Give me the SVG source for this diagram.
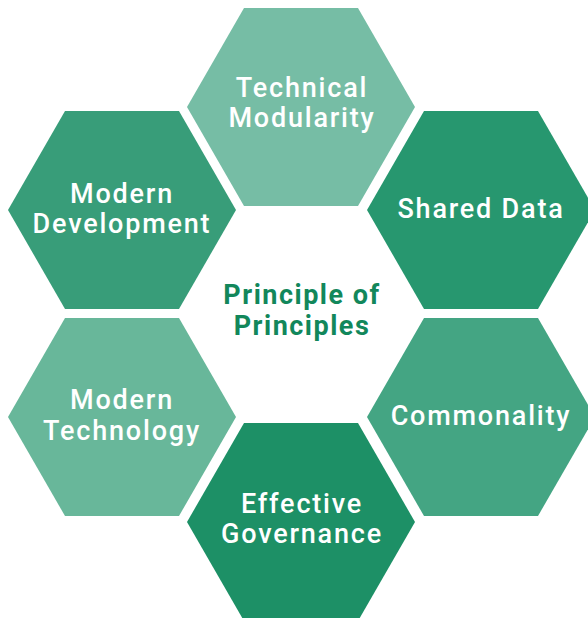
<svg xmlns="http://www.w3.org/2000/svg" xmlns:xlink="http://www.w3.org/1999/xlink" width="588" height="618" viewBox="0 0 588 618">
  <defs>
    <polygon id="hex" points="-114,0 -57,-99 57,-99 114,0 57,99 -57,99"/>
    <style>
      .lbl { font-family: Roboto, "Liberation Sans", sans-serif; font-weight: 500; font-size: 27px; fill: #ffffff; text-anchor: middle; letter-spacing: 1.8px; }
      .center { font-family: Roboto, "Liberation Sans", sans-serif; font-weight: 700; font-size: 27px; fill: #12875b; text-anchor: middle; letter-spacing: 1.5px; }
    </style>
  </defs>
  <rect width="588" height="618" fill="#ffffff"/>
  <g id="technical-modularity">
    <use href="#hex" xlink:href="#hex" x="301" y="107" fill="#76bda5"/>
    <text class="lbl" x="302" y="97">Technical</text>
    <text class="lbl" x="302" y="127">Modularity</text>
  </g>
  <g id="modern-development">
    <use href="#hex" xlink:href="#hex" x="122" y="210" fill="#389d79"/>
    <text class="lbl" x="122" y="203">Modern</text>
    <text class="lbl" x="122" y="233">Development</text>
  </g>
  <g id="shared-data">
    <use href="#hex" xlink:href="#hex" x="481" y="210" fill="#27976f"/>
    <text class="lbl" x="481" y="218">Shared Data</text>
  </g>
  <g id="modern-technology">
    <use href="#hex" xlink:href="#hex" x="122" y="417" fill="#68b79a"/>
    <text class="lbl" x="122" y="409">Modern</text>
    <text class="lbl" x="122" y="440">Technology</text>
  </g>
  <g id="commonality">
    <use href="#hex" xlink:href="#hex" x="481" y="417" fill="#44a583"/>
    <text class="lbl" x="481" y="425">Commonality</text>
  </g>
  <g id="effective-governance">
    <use href="#hex" xlink:href="#hex" x="301" y="522" fill="#1d9066"/>
    <text class="lbl" x="302" y="513">Effective</text>
    <text class="lbl" x="302" y="543">Governance</text>
  </g>
  <g id="principle-of-principles">
    <text class="center" x="302" y="304">Principle of</text>
    <text class="center" x="302" y="335">Principles</text>
  </g>
  <g id="connectors"/>
</svg>
